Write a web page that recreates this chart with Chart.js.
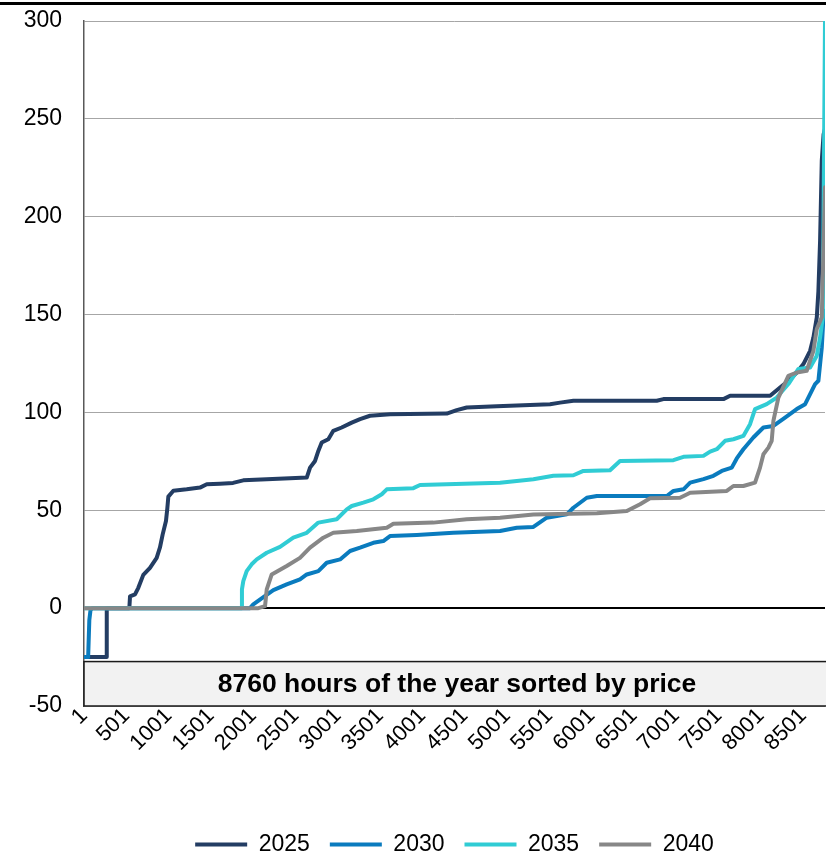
<!DOCTYPE html>
<html>
<head>
<meta charset="utf-8">
<script src="https://cdn.jsdelivr.net/npm/chart.js@4.4.1/dist/chart.umd.min.js"></script>
<style>
    html, body { margin: 0; padding: 0; background: #ffffff; }
    #wrap { width: 826px; height: 855px; position: relative; }
</style>
</head>
<body>
<div id="wrap">
    <canvas id="priceChart" width="826" height="855"></canvas>
</div>
<script>
// sorted hourly prices (hour of the year, price)
const seriesNames = ['2025', '2030', '2035', '2040'];
const seriesColors = ['#233D63', '#0A7BBE', '#30CCD4', '#878787'];

const hours2025 = [1, 268, 270, 537, 545, 604, 643, 702, 781, 860, 899, 931, 970, 986, 998, 1057, 1215, 1372, 1452, 1609, 1763, 1884, 2161, 2436, 2634, 2673, 2732, 2771, 2811, 2889, 2948, 3047, 3166, 3264, 3382, 3619, 4289, 4407, 4525, 4880, 5510, 5628, 5786, 6771, 6850, 7559, 7638, 8111, 8229, 8327, 8426, 8505, 8584, 8623, 8663, 8682, 8702, 8722, 8743, 8760];
const price2025 = [-25, -25, 0, 0, 6, 7, 10.4, 17, 20.6, 25.7, 31, 37.7, 44.5, 51, 57, 60, 60.7, 61.6, 63.3, 63.6, 64, 65.3, 65.9, 66.4, 66.7, 71.8, 75.2, 80.3, 84.6, 86.3, 90.6, 92.3, 94.8, 96.6, 98.3, 99.1, 99.4, 101.2, 102.5, 103.2, 104.2, 105, 106, 106, 106.8, 106.8, 108.5, 108.5, 112.7, 116.2, 120.4, 124.7, 131.5, 138.3, 148.6, 162, 187.8, 228.8, 242, 245];

const hours2030 = [1, 50, 64, 78, 100, 1963, 2002, 2101, 2239, 2397, 2554, 2634, 2771, 2870, 3028, 3146, 3264, 3421, 3539, 3618, 3934, 4367, 4919, 5116, 5313, 5471, 5708, 5786, 5944, 6063, 6890, 6969, 7087, 7166, 7323, 7441, 7540, 7658, 7717, 7795, 7913, 8032, 8150, 8288, 8426, 8525, 8643, 8682, 8722, 8737, 8760];
const price2030 = [-25, -25, -6, -1, 0, 0, 1.9, 5, 9.2, 12.1, 14.7, 17.2, 18.9, 23.2, 24.9, 29.2, 30.9, 33.4, 34.3, 36.8, 37.4, 38.5, 39.4, 41.1, 41.5, 46.2, 47.9, 51.3, 56.4, 57.3, 57.3, 59.9, 60.7, 64.1, 65.9, 67.6, 70.1, 71.8, 76.5, 81.2, 87.2, 92.3, 93.1, 97.4, 101.7, 104.2, 114.5, 116.2, 133.2, 145, 152];

const hours2035 = [1, 1864, 1868, 1884, 1924, 1983, 2043, 2161, 2318, 2475, 2634, 2771, 2988, 3107, 3166, 3303, 3421, 3521, 3580, 3894, 3973, 4919, 5313, 5549, 5786, 5904, 6219, 6337, 6968, 7087, 7323, 7402, 7481, 7579, 7677, 7795, 7874, 7933, 8071, 8189, 8327, 8446, 8584, 8663, 8702, 8734, 8760];
const price2035 = [0, 0, 9.6, 13.8, 18.9, 22.4, 24.9, 28.3, 31.3, 36, 38.5, 43.7, 45.4, 50.5, 52.2, 53.9, 55.6, 58.2, 60.7, 61.3, 62.9, 64.1, 65.9, 67.6, 67.9, 70.1, 70.5, 75.2, 75.6, 77.3, 77.8, 80, 81.2, 85.5, 86.3, 88, 94, 101.7, 104.2, 107.6, 114.5, 122.2, 123, 129, 138.3, 148.6, 300];

const hours2040 = [1, 2062, 2141, 2161, 2220, 2397, 2554, 2673, 2830, 2948, 3225, 3580, 3658, 4130, 4525, 4919, 5313, 6063, 6417, 6574, 6692, 7047, 7166, 7599, 7677, 7795, 7933, 7992, 8032, 8091, 8130, 8150, 8209, 8327, 8426, 8544, 8623, 8663, 8722, 8760];
const price2040 = [0, 0, 1, 9.6, 17.2, 21.5, 25.7, 30.9, 36, 38.5, 39.4, 41.1, 43.1, 43.7, 45.4, 46.2, 47.9, 48.5, 49.6, 53.1, 56.1, 56.4, 59, 59.9, 62.4, 62.4, 64.1, 71.8, 78.6, 82, 85.5, 95.7, 107.6, 118.7, 120.4, 121.3, 131.5, 142.6, 148.6, 215];

const xTickLabels = [1, 501, 1001, 1501, 2001, 2501, 3001, 3501, 4001, 4501, 5001, 5501, 6001, 6501, 7001, 7501, 8001, 8501];
const yTickLabels = [-50, 0, 50, 100, 150, 200, 250, 300];
const boxText = '8760 hours of the year sorted by price';

const allHours = [hours2025, hours2030, hours2035, hours2040];
const allPrices = [price2025, price2030, price2035, price2040];

const FONT = '"Liberation Sans", Arial, sans-serif';

function toPoints(hours, prices) {
    return hours.map((h, i) => ({x: h, y: prices[i]}));
}

// grey caption box sitting on the bottom of the plot + rule at the very top
const captionBox = {
    id: 'captionBox',
    beforeDatasetsDraw(chart) {
        const {ctx, chartArea} = chart;
        const y = chart.scales.y;
        const top = y.getPixelForValue(-27.3);
        const bottom = chartArea.bottom;
        const left = chartArea.left;
        const right = chart.width;
        ctx.save();
        ctx.fillStyle = '#F2F2F2';
        ctx.fillRect(left, top, right - left, bottom - top);
        ctx.strokeStyle = '#1a1a1a';
        ctx.lineWidth = 1.5;
        ctx.strokeRect(left, top, right - left + 2, bottom - top);
        ctx.fillStyle = '#000000';
        ctx.font = 'bold 26.5px ' + FONT;
        ctx.textAlign = 'center';
        ctx.textBaseline = 'middle';
        ctx.fillText(boxText, (left + right) / 2 + 2, (top + bottom) / 2 + 1);
        ctx.restore();
    },
    afterDraw(chart) {
        const ctx = chart.ctx;
        ctx.save();
        ctx.fillStyle = '#000000';
        ctx.fillRect(0, 2, chart.width, 3);
        ctx.restore();
    }
};

const ctx = document.getElementById('priceChart');
const myChart = new Chart(ctx, {
    type: 'line',
    data: {
        datasets: seriesNames.map((name, i) => ({
            label: name,
            data: toPoints(allHours[i], allPrices[i]),
            borderColor: seriesColors[i],
            backgroundColor: seriesColors[i],
            borderWidth: 4,
            borderJoinStyle: 'round',
            borderCapStyle: 'round',
            pointRadius: 0,
            tension: 0,
            fill: false,
            order: seriesNames.length - i,
        })),
    },
    options: {
        responsive: false,
        animation: false,
        layout: {
            padding: {top: 21, left: 0, right: 1, bottom: -11},
        },
        plugins: {
            tooltip: {enabled: false},
            legend: {
                position: 'bottom',
                fullSize: false,
                labels: {
                    color: '#000000',
                    font: {family: FONT, size: 23},
                    boxWidth: 52,
                    boxHeight: 4,
                    padding: 20,
                    sort: (a, b) => a.datasetIndex - b.datasetIndex,
                    generateLabels: (chart) => {
                        const items = Chart.defaults.plugins.legend.labels.generateLabels(chart);
                        items.forEach((item) => {
                            item.fillStyle = seriesColors[item.datasetIndex];
                            item.lineWidth = 0;
                        });
                        return items;
                    },
                },
            },
        },
        scales: {
            x: {
                type: 'linear',
                min: 1,
                max: 8760,
                grid: {display: false},
                border: {display: false},
                afterBuildTicks: (scale) => {
                    scale.ticks = xTickLabels.map((v) => ({value: v}));
                },
                afterFit: (scale) => {
                    scale.height = 107;
                },
                ticks: {
                    autoSkip: false,
                    minRotation: 45,
                    maxRotation: 45,
                    padding: -11,
                    color: '#000000',
                    font: {family: FONT, size: 22},
                    callback: (v) => String(v),
                },
            },
            y: {
                min: -50,
                max: 300,
                afterBuildTicks: (scale) => {
                    scale.ticks = yTickLabels.map((v) => ({value: v}));
                },
                afterFit: (scale) => {
                    scale.width = 84;
                },
                grid: {
                    drawTicks: true,
                    tickLength: 22,
                    tickColor: 'rgba(0,0,0,0)',
                    color: (c) => (c.tick && c.tick.value === 0 ? '#000000' : '#A6A6A6'),
                    lineWidth: (c) => (c.tick && c.tick.value === 0 ? 2 : 1),
                },
                border: {color: '#595959', width: 1.5},
                ticks: {
                    padding: 0,
                    color: '#000000',
                    font: {family: FONT, size: 23},
                    callback: (v) => String(v),
                },
            },
        },
    },
    plugins: [captionBox],
});
</script>
</body>
</html>
